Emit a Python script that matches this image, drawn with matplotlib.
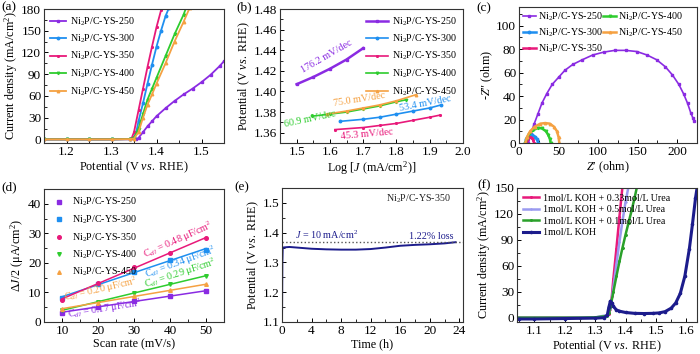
import numpy as np
import matplotlib
matplotlib.use("Agg")
import matplotlib.pyplot as plt
from matplotlib.ticker import AutoMinorLocator, MultipleLocator

plt.rcParams['font.family'] = ['Liberation Serif', 'DejaVu Serif']
plt.rcParams['mathtext.fontset'] = 'custom'
plt.rcParams['mathtext.rm'] = 'Liberation Serif'
plt.rcParams['mathtext.it'] = 'Liberation Serif:italic'
plt.rcParams['xtick.direction'] = 'in'
plt.rcParams['ytick.direction'] = 'in'
plt.rcParams['axes.linewidth'] = 0.8
plt.rcParams['axes.edgecolor'] = '#333333'

PURPLE = '#8a2be2'
BLUE = '#1f8ff0'
PINK = '#e8197a'
GREEN = '#2ecc2e'
ORANGE = '#f5a142'
NAVY = '#1c1c8c'
LILAC = '#9a9af0'
DGREEN = '#2aa02a'

samples = ['Ni$_2$P/C-YS-250', 'Ni$_2$P/C-YS-300', 'Ni$_2$P/C-YS-350',
           'Ni$_2$P/C-YS-400', 'Ni$_2$P/C-YS-450']
colors = [PURPLE, BLUE, PINK, GREEN, ORANGE]
markers = ['s', 'o', '*', 'v', '^']

# (a) LSV curves
a_x250 = [1.15, 1.20, 1.25, 1.30, 1.34, 1.355, 1.36, 1.37, 1.38, 1.39, 1.40, 1.42, 1.44, 1.46, 1.48, 1.50, 1.52, 1.54, 1.55]
a_y250 = [0, 0, 0, 0, 0, 0.5, 2, 10, 18, 25, 32, 43, 53, 62, 70, 79, 89, 101, 108]
a_x300 = [1.15, 1.20, 1.25, 1.30, 1.34, 1.35, 1.355, 1.36, 1.37, 1.38, 1.39, 1.40, 1.41, 1.42, 1.428]
a_y300 = [0, 0, 0, 0, 0.5, 3, 10, 25, 50, 77, 103, 128, 150, 170, 182]
a_x350 = [1.15, 1.20, 1.25, 1.30, 1.34, 1.345, 1.35, 1.36, 1.37, 1.38, 1.39, 1.40, 1.41, 1.413]
a_y350 = [0, 0, 0, 0, 0.5, 2, 10, 40, 70, 100, 128, 155, 178, 182]
a_x400 = [1.15, 1.20, 1.25, 1.30, 1.34, 1.35, 1.36, 1.37, 1.38, 1.39, 1.40, 1.42, 1.44, 1.46, 1.466]
a_y400 = [0, 0, 0, 0, 0.3, 2, 15, 35, 55, 70, 85, 115, 145, 172, 182]
a_x450 = [1.15, 1.20, 1.25, 1.30, 1.34, 1.35, 1.36, 1.37, 1.38, 1.39, 1.40, 1.42, 1.44, 1.46, 1.474]
a_y450 = [0, 0, 0, 0, 0.3, 1, 10, 30, 48, 62, 77, 105, 135, 162, 182]

# (b) Tafel
b_x250 = [1.50, 1.55, 1.60, 1.65, 1.70]
b_y250 = [1.407, 1.414, 1.422, 1.431, 1.442]
b_x300 = [1.63, 1.70, 1.75, 1.80, 1.85, 1.90, 1.935]
b_y300 = [1.371, 1.373, 1.375, 1.378, 1.381, 1.384, 1.387]
b_x350 = [1.615, 1.70, 1.75, 1.80, 1.85, 1.90, 1.93]
b_y350 = [1.363, 1.365, 1.367, 1.369, 1.372, 1.375, 1.377]
b_x400 = [1.545, 1.60, 1.65, 1.70, 1.75, 1.80, 1.83]
b_y400 = [1.376, 1.378, 1.380, 1.383, 1.386, 1.390, 1.392]
b_x450 = [1.59, 1.65, 1.70, 1.75, 1.80, 1.86]
b_y450 = [1.378, 1.381, 1.384, 1.387, 1.391, 1.397]
tafel_labels = ['176.2 mV/dec', '53.4 mV/dec', '45.3 mV/dec', '60.9 mV/dec', '75.0 mV/dec']

# (c) Nyquist
c_x250 = [12, 15, 19, 24, 29, 35, 42, 50, 58, 68, 80, 93, 107, 121, 135, 149, 162, 174, 185, 194, 202, 208, 213, 217, 220, 221]
c_y250 = [0, 8, 16, 25, 34, 42, 50, 56, 62, 67, 71, 75, 77.5, 79, 79, 78, 75, 71, 65, 58, 50, 42, 34, 26, 21, 19]
c_x300 = [8, 9, 11, 14, 17, 20, 23, 24]
c_y300 = [0, 3, 5.5, 7, 7, 5.5, 3, 0]
c_x350 = [9, 10, 12, 14, 16, 18, 19]
c_y350 = [0, 2.5, 4.5, 5, 4.5, 2.5, 0]
c_x400 = [8, 10, 13, 18, 24, 29, 34, 37, 39, 40]
c_y400 = [0, 4, 8, 11, 12.8, 12.5, 10, 7, 3.5, 0]
c_x450 = [8, 10, 14, 20, 27, 33, 39, 44, 48, 50, 51]
c_y450 = [0, 5, 10, 14, 16.5, 17, 16.5, 14, 10, 5, 0]

# (d) double-layer capacitance
scan_rate = [10, 20, 30, 40, 50]
d_250 = [3.2, 5.2, 7.0, 8.8, 10.5]
d_300 = [8.2, 12.8, 17.0, 21.0, 24.5]
d_350 = [7.5, 13.2, 18.5, 23.5, 28.3]
d_400 = [4.0, 6.8, 9.8, 12.7, 15.7]
d_450 = [4.5, 6.5, 8.7, 10.8, 12.7]
cdl_labels = ['0.17', '0.34', '0.48', '0.29', '0.20']

# (e) stability
e_t = [0, 0.05, 0.1, 0.5, 1, 2, 4, 6, 8, 10, 12, 14, 16, 18, 20, 22, 23.5]
e_v = [1.10, 1.30, 1.35, 1.351, 1.352, 1.350, 1.346, 1.344, 1.343, 1.343, 1.345, 1.350, 1.356, 1.359, 1.361, 1.364, 1.368]
e_ref = 1.368

# (f) urea
f_x033 = [1.05, 1.10, 1.15, 1.20, 1.25, 1.30, 1.33, 1.345, 1.35, 1.355, 1.36, 1.37, 1.38, 1.39]
f_y033 = [0, 0, 0, 0, 0, 0.3, 1, 4, 10, 25, 45, 80, 117, 152]
f_x05 = [1.05, 1.10, 1.20, 1.30, 1.34, 1.35, 1.36, 1.37, 1.38, 1.39, 1.40, 1.41]
f_y05 = [0, 0, 0, 0.3, 3, 10, 35, 62, 88, 112, 134, 152]
f_x01 = [1.05, 1.10, 1.15, 1.20, 1.25, 1.30, 1.34, 1.345, 1.35, 1.36, 1.37, 1.38, 1.39, 1.40, 1.41, 1.42, 1.43, 1.438]
f_y01 = [0, 0, 0, 0, 0, 0.3, 2, 5, 12, 30, 48, 65, 81, 96, 110, 124, 139, 152]
f_xkoh = [1.05, 1.10, 1.20, 1.30, 1.33, 1.34, 1.345, 1.35, 1.355, 1.36, 1.37, 1.38, 1.40, 1.43, 1.46, 1.49, 1.51, 1.53, 1.55, 1.565, 1.58, 1.595, 1.61, 1.62, 1.63, 1.636]
f_ykoh = [-1.5, -1.5, -1, -0.5, 0, 3, 12, 19, 17, 13, 9, 7.5, 6, 5, 4.8, 5, 5.5, 7, 11, 17, 28, 48, 80, 108, 138, 152]
f_labels = ['1mol/L KOH + 0.33mol/L Urea', '1mol/L KOH + 0.5mol/L Urea',
            '1mol/L KOH + 0.1mol/L Urea', '1mol/L KOH']

TICK = 9.5
LAB = 8.7
LEG = 7.2
ANN = 7.3

W, H = 700, 354
fig = plt.figure(figsize=(7, 3.54), dpi=100)


def box(l, t, r, b):
    return fig.add_axes([l / W, 1 - b / H, (r - l) / W, (b - t) / H])


def style(ax):
    ax.tick_params(labelsize=TICK, length=3, width=0.7, pad=2)
    ax.tick_params(which='minor', length=2, width=0.6)
    ax.xaxis.set_minor_locator(AutoMinorLocator(2))
    ax.yaxis.set_minor_locator(AutoMinorLocator(2))


ax_a = box(44, 9, 224, 143)
ax_b = box(280, 9, 463, 143)
ax_c = box(519, 7, 697, 143)
ax_d = box(44, 189, 224, 322)
ax_e = box(282, 188, 463, 322)
ax_f = box(517, 188, 697, 322)

# (a)
a_sets = [(a_x250, a_y250), (a_x300, a_y300), (a_x350, a_y350), (a_x400, a_y400), (a_x450, a_y450)]
for (x, y), c, m, lab in zip(a_sets, colors, markers, samples):
    ax_a.plot(x, y, color=c, marker=m, ms=1.8, lw=1.3, label=lab)
ax_a.set_xlim(1.15, 1.55)
ax_a.set_ylim(-5, 180)
ax_a.xaxis.set_major_locator(MultipleLocator(0.1))
ax_a.yaxis.set_major_locator(MultipleLocator(30))
style(ax_a)
ax_a.set_xlabel('Potential (V $vs.$ RHE)', fontsize=LAB, labelpad=1)
ax_a.set_ylabel('Current density (mA/cm$^2$)', fontsize=LAB, labelpad=1)
ax_a.legend(loc='upper left', frameon=False, fontsize=LEG, handlelength=1.6,
            labelspacing=0.5, borderaxespad=0.2, handletextpad=0.4)

# (b)
b_sets = [(b_x250, b_y250), (b_x300, b_y300), (b_x350, b_y350), (b_x400, b_y400), (b_x450, b_y450)]
for (x, y), c, m, lab in zip(b_sets, colors, markers, samples):
    ax_b.plot(x, y, color=c, marker=m, ms=1.8, lw=1.8 if c == PURPLE else 1.2, label=lab)
ax_b.set_xlim(1.45, 2.0)
ax_b.set_ylim(1.35, 1.48)
ax_b.xaxis.set_major_locator(MultipleLocator(0.1))
ax_b.yaxis.set_major_locator(MultipleLocator(0.02))
style(ax_b)
tafel_pos = [(1.59, 1.4335, 30), (1.886, 1.3885, 11), (1.71, 1.359, 5), (1.54, 1.3735, 12), (1.689, 1.392, 9)]
for (x, y, r), c, t in zip(tafel_pos, colors, tafel_labels):
    ax_b.text(x, y, t, color=c, fontsize=ANN, rotation=r, ha='center', va='center')
ax_b.set_xlabel('Log [$J$ (mA/cm$^2$)]', fontsize=LAB, labelpad=1)
ax_b.set_ylabel('Potential (V $vs.$ RHE)', fontsize=LAB, labelpad=1)
ax_b.legend(loc='upper right', frameon=False, fontsize=LEG, handlelength=2.2,
            labelspacing=0.5, borderaxespad=0.2, handletextpad=0.4)

# (c)
c_sets = [(c_x250, c_y250), (c_x300, c_y300), (c_x350, c_y350), (c_x400, c_y400), (c_x450, c_y450)]
for (x, y), c, m, lab in zip(c_sets, colors, markers, samples):
    ax_c.plot(x, y, color=c, marker=m, ms=1.8, lw=1.2 if c == PURPLE else 1.8, label=lab)
ax_c.set_xlim(0, 225)
ax_c.set_ylim(0, 116)
ax_c.xaxis.set_major_locator(MultipleLocator(50))
ax_c.yaxis.set_major_locator(MultipleLocator(20))
style(ax_c)
ax_c.set_xlabel("$Z$′ (ohm)", fontsize=LAB, labelpad=1)
ax_c.set_ylabel("-$Z$″ (ohm)", fontsize=LAB, labelpad=1)
ax_c.legend(loc='upper left', ncol=2, frameon=False, fontsize=LEG, handlelength=1.3,
            labelspacing=0.35, borderaxespad=0.15, handletextpad=0.2, columnspacing=0.1,
            borderpad=0.2)

# (d)
d_sets = [d_250, d_300, d_350, d_400, d_450]
d_marks = ['s', 's', 'o', 'v', '^']
for y, c, m, lab in zip(d_sets, colors, d_marks, samples):
    ax_d.plot(scan_rate, y, ls='none', color=c, marker=m, ms=2.6, label=lab)
    k, b0 = np.polyfit(scan_rate, y, 1)
    xs = np.array([scan_rate[0], scan_rate[-1]])
    ax_d.plot(xs, k * xs + b0, color=c, lw=1.1)
cdl_pos = [(22, 4.4, 9), (42.9, 20.0, 20), (42.2, 27.6, 24), (42.9, 16.4, 18), (20.8, 10.9, 13)]
for (x, y, r), c, v in zip(cdl_pos, colors, cdl_labels):
    ax_d.text(x, y, 'C$_{dl}$ = ' + v + ' μF/cm$^2$', color=c, fontsize=ANN,
              rotation=r, ha='center', va='center')
ax_d.set_xlim(5, 55)
ax_d.set_ylim(0, 45)
ax_d.xaxis.set_major_locator(MultipleLocator(10))
ax_d.yaxis.set_major_locator(MultipleLocator(10))
style(ax_d)
ax_d.set_xlabel('Scan rate (mV/s)', fontsize=LAB, labelpad=1)
ax_d.set_ylabel('Δ$J$/2 (μA/cm$^2$)', fontsize=LAB, labelpad=1)
ax_d.legend(loc='upper left', frameon=False, fontsize=LEG, handlelength=1.5,
            labelspacing=0.5, borderaxespad=0.3, handletextpad=0.6)

# (e)
ax_e.plot(e_t, e_v, color=NAVY, lw=1.4)
ax_e.axhline(e_ref, color='#555555', ls=':', lw=1.0)
ax_e.text(6.0, e_ref + 0.004, '$J$ = 10 mA/cm$^2$', color=NAVY, fontsize=ANN, ha='center', va='bottom')
ax_e.text(20.2, e_ref + 0.004, '1.22% loss', color=NAVY, fontsize=ANN, ha='center', va='bottom')
ax_e.text(18.5, 1.514, 'Ni$_2$P/C-YS-350', color='#222222', fontsize=LEG, ha='center', va='center')
ax_e.set_xlim(0, 24.5)
ax_e.set_ylim(1.1, 1.55)
ax_e.xaxis.set_major_locator(MultipleLocator(4))
ax_e.yaxis.set_major_locator(MultipleLocator(0.1))
style(ax_e)
ax_e.set_xlabel('Time (h)', fontsize=LAB, labelpad=1)
ax_e.set_ylabel('Potential (V $vs.$ RHE)', fontsize=LAB, labelpad=1)

# (f)
f_sets = [(f_x033, f_y033), (f_x05, f_y05), (f_x01, f_y01), (f_xkoh, f_ykoh)]
f_cols = [PINK, LILAC, DGREEN, NAVY]
f_marks = ['*', '+', '*', 'o']
for (x, y), c, m, lab in zip(f_sets, f_cols, f_marks, f_labels):
    ax_f.plot(x, y, color=c, marker=m, ms=1.6, lw=2.2 if c == NAVY else 1.8, label=lab)
ax_f.set_xlim(1.043, 1.635)
ax_f.set_ylim(-5, 150)
ax_f.xaxis.set_major_locator(MultipleLocator(0.1))
ax_f.yaxis.set_major_locator(MultipleLocator(30))
style(ax_f)
ax_f.set_xlabel('Potential (V $vs.$ RHE)', fontsize=LAB, labelpad=1)
ax_f.set_ylabel('Current density (mA/cm$^2$)', fontsize=LAB, labelpad=1)
ax_f.legend(loc='upper left', frameon=False, fontsize=LEG, handlelength=1.6,
            labelspacing=0.25, borderaxespad=0.2, handletextpad=0.4)

# panel letters
for t, x, y in [('(a)', 1, 1), ('(b)', 236, 1), ('(c)', 476, 2),
                ('(d)', 1, 181), ('(e)', 234, 181), ('(f)', 477, 179)]:
    fig.text(x / W, 1 - y / H, t, fontsize=9.5, ha='left', va='top')

fig.savefig('out.png', dpi=100)
